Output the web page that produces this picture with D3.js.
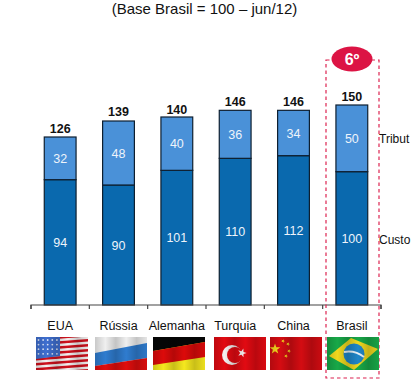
<!DOCTYPE html>
<html>
<head>
<meta charset="utf-8">
<script src="https://cdn.jsdelivr.net/npm/d3@7"></script>
<style>
html, body { margin: 0; padding: 0; background: #fff; overflow: hidden; }
svg { display: block; font-family: "Liberation Sans", Arial, sans-serif; }
</style>
</head>
<body>
<div id="chart"></div>
<script>
var countries = ["EUA", "Rússia", "Alemanha", "Turquia", "China", "Brasil"];
var custos = [94, 90, 101, 110, 112, 100];
var tributos = [32, 48, 40, 36, 34, 50];
var totals = [126, 139, 140, 146, 146, 150];
var seriesKeys = ["custos", "tributos"];
// only this much of the names is visible at the right edge of the picture
var seriesNames = ["Custo", "Tribut"];
var titleText = "(Base Brasil = 100 – jun/12)";
var rankText = "6º";

var colors = { custos: "#0a69ae", tributos: "#4a91d8" };

var svg = d3.select("#chart").append("svg")
    .attr("width", 413)
    .attr("height", 385);
var defs = svg.append("defs");

var x = d3.scaleBand()
    .domain(countries)
    .range([31, 381])
    .paddingInner(0.455)
    .paddingOuter(0.2275);

var y = d3.scaleLinear()
    .domain([0, 150])
    .range([305, 105]);

// stack the two series
var rows = countries.map(function (c, i) {
    return { country: c, custos: custos[i], tributos: tributos[i], total: totals[i] };
});
var stacked = d3.stack().keys(seriesKeys)(rows);

svg.append("text")
    .attr("x", 204.5)
    .attr("y", 14)
    .attr("text-anchor", "middle")
    .attr("font-size", 15)
    .attr("fill", "#111")
    .text(titleText);

var groups = svg.selectAll("g.serie")
    .data(stacked)
    .join("g")
    .attr("class", "serie");

groups.selectAll("rect")
    .data(function (d) { return d.map(function (p) { return { key: d.key, p: p }; }); })
    .join("rect")
    .attr("x", function (d) { return x(d.p.data.country); })
    .attr("y", function (d) { return y(d.p[1]); })
    .attr("width", x.bandwidth())
    .attr("height", function (d) { return y(d.p[0]) - y(d.p[1]); })
    .attr("fill", function (d) { return colors[d.key]; })
    .attr("stroke", "#0e1f30")
    .attr("stroke-width", 1.2);

groups.selectAll("text")
    .data(function (d) { return d.map(function (p) { return { key: d.key, p: p }; }); })
    .join("text")
    .attr("x", function (d) { return x(d.p.data.country) + x.bandwidth() / 2; })
    .attr("y", function (d) { return (y(d.p[0]) + y(d.p[1])) / 2 + 4.5; })
    .attr("text-anchor", "middle")
    .attr("font-size", 12.5)
    .attr("fill", "#eef4fb")
    .text(function (d) { return d.p[1] - d.p[0]; });

// totals on top of bars
svg.selectAll("text.total")
    .data(rows)
    .join("text")
    .attr("class", "total")
    .attr("x", function (d) { return x(d.country) + x.bandwidth() / 2; })
    .attr("y", function (d) { return y(d.total) - 4; })
    .attr("text-anchor", "middle")
    .attr("font-size", 12.5)
    .attr("font-weight", "bold")
    .attr("fill", "#111")
    .text(function (d) { return d.total; });

// axis with ticks between the categories
var step = x.step();
var axisTicks = d3.range(countries.length + 1).map(function (i) { return 31 + i * step; });
svg.append("path")
    .attr("d", "M31,309V305H381V309")
    .attr("fill", "none")
    .attr("stroke", "#444")
    .attr("stroke-width", 1.2);
svg.selectAll("line.tick")
    .data(axisTicks)
    .join("line")
    .attr("class", "tick")
    .attr("x1", function (d) { return d; })
    .attr("x2", function (d) { return d; })
    .attr("y1", 305)
    .attr("y2", 309)
    .attr("stroke", "#444")
    .attr("stroke-width", 1.2);

// country names
svg.selectAll("text.country")
    .data(countries)
    .join("text")
    .attr("class", "country")
    .attr("x", function (d) { return x(d) + x.bandwidth() / 2; })
    .attr("y", 330)
    .attr("text-anchor", "middle")
    .attr("font-size", 12.5)
    .attr("fill", "#111")
    .text(function (d) { return d; });

svg.append("text").attr("x", 379).attr("y", 143).attr("font-size", 12).attr("fill", "#111").text(seriesNames[1]);
svg.append("text").attr("x", 379).attr("y", 244).attr("font-size", 12).attr("fill", "#111").text(seriesNames[0]);

// highlight around Brasil
svg.append("rect")
    .attr("x", 326)
    .attr("y", 60)
    .attr("width", 53)
    .attr("height", 318)
    .attr("fill", "none")
    .attr("stroke", "#dc2350")
    .attr("stroke-width", 1.2)
    .attr("stroke-dasharray", "3.5,3");
svg.append("ellipse")
    .attr("cx", 352)
    .attr("cy", 59)
    .attr("rx", 20.5)
    .attr("ry", 12.5)
    .attr("fill", "#dc1444");
svg.append("text")
    .attr("x", 352)
    .attr("y", 65)
    .attr("text-anchor", "middle")
    .attr("font-size", 16)
    .attr("font-weight", "bold")
    .attr("fill", "#fff")
    .text(rankText);

// flags
var flagW = 52, flagH = 33, flagTop = 337;
var flagLeft = { "EUA": 36, "Rússia": 95, "Alemanha": 153, "Turquia": 214, "China": 270, "Brasil": 327 };

var wave = defs.append("linearGradient").attr("id", "wave");
[[0, 0.16], [0.2, 0], [0.4, 0.18], [0.6, 0], [0.8, 0.18], [1, 0.04]].forEach(function (s) {
    wave.append("stop").attr("offset", s[0]).attr("stop-color", "#000").attr("stop-opacity", s[1]);
});

function star(cx, cy, r, rot) {
    var pts = d3.range(10).map(function (i) {
        var a = rot + i * Math.PI / 5 - Math.PI / 2;
        var rr = i % 2 ? r * 0.4 : r;
        return [cx + rr * Math.cos(a), cy + rr * Math.sin(a)].join(",");
    });
    return pts.join(" ");
}

var flagDraw = {
    "EUA": function (g) {
        g.append("rect").attr("width", flagW).attr("height", flagH).attr("fill", "#f4f0f0");
        d3.range(8).forEach(function (i) {
            g.append("polygon")
                .attr("points", "0," + (i * 5 + 1) + " 52," + (i * 5 - 3) + " 52," + (i * 5 - 0.5) + " 0," + (i * 5 + 3.5))
                .attr("fill", "#d0101c");
        });
        g.append("polygon").attr("points", "0,0 24,0 24,19 0,22").attr("fill", "#3f6fd0");
        d3.range(4).forEach(function (r) {
            d3.range(5).forEach(function (c) {
                g.append("circle").attr("cx", 2.5 + c * 4.6).attr("cy", 3 + r * 4.6).attr("r", 0.9).attr("fill", "#dfe8fa");
            });
        });
    },
    "Rússia": function (g) {
        g.append("rect").attr("width", flagW).attr("height", flagH).attr("fill", "#efefef");
        g.append("polygon").attr("points", "0,16 52,6 52,21 0,29").attr("fill", "#2f7ccf");
        g.append("polygon").attr("points", "0,29 52,21 52,33 0,33").attr("fill", "#e00d0d");
    },
    "Alemanha": function (g) {
        g.append("rect").attr("width", flagW).attr("height", flagH).attr("fill", "#f5e81e");
        g.append("polygon").attr("points", "0,0 52,0 52,5 0,14").attr("fill", "#060606");
        g.append("polygon").attr("points", "0,14 52,5 52,20 0,28").attr("fill", "#dc0a0a");
    },
    "Turquia": function (g) {
        g.append("rect").attr("width", flagW).attr("height", flagH).attr("fill", "#e20a12");
        g.append("circle").attr("cx", 18).attr("cy", 18).attr("r", 10).attr("fill", "#f4f0f0");
        g.append("circle").attr("cx", 21).attr("cy", 18).attr("r", 8).attr("fill", "#e20a12");
        g.append("polygon").attr("points", star(28, 16, 4.6, 0.3)).attr("fill", "#f4f0f0");
    },
    "China": function (g) {
        g.append("rect").attr("width", flagW).attr("height", flagH).attr("fill", "#d40c12");
        g.append("polygon").attr("points", star(5, 12, 5.5, 0)).attr("fill", "#f6d81e");
        [[13, 4], [18, 7], [19, 14], [16, 19]].forEach(function (s) {
            g.append("polygon").attr("points", star(s[0], s[1], 2, 0.4)).attr("fill", "#f6d81e");
        });
    },
    "Brasil": function (g) {
        g.append("rect").attr("width", flagW).attr("height", flagH).attr("fill", "#18a848");
        g.append("polygon").attr("points", "2,19 24,1 51,12 27,33").attr("fill", "#f0d81e");
        g.append("circle").attr("cx", 27).attr("cy", 17).attr("r", 10.5).attr("fill", "#1f86c8");
        g.append("path").attr("d", "M17,15Q28,13 37,20").attr("fill", "none").attr("stroke", "#e8f2f8").attr("stroke-width", 2);
    }
};

countries.forEach(function (c) {
    var id = "clip" + countries.indexOf(c);
    defs.append("clipPath").attr("id", id)
        .append("rect").attr("width", flagW).attr("height", flagH);
    var g = svg.append("g")
        .attr("transform", "translate(" + flagLeft[c] + "," + flagTop + ")")
        .attr("clip-path", "url(#" + id + ")");
    flagDraw[c](g);
    g.append("rect").attr("width", flagW).attr("height", flagH).attr("fill", "url(#wave)");
});
</script>
</body>
</html>
